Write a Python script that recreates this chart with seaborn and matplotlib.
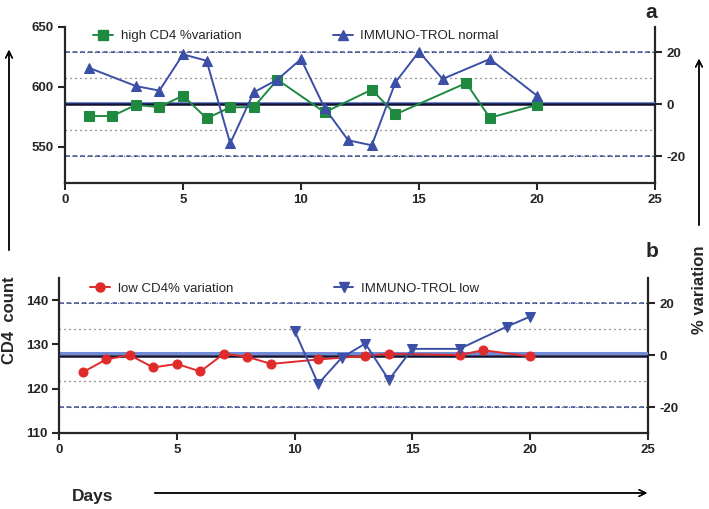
import matplotlib
matplotlib.use("Agg")
import matplotlib.pyplot as plt
from matplotlib.lines import Line2D
import seaborn as sns

# panel a: high CD4 control
days_high = [1, 2, 3, 4, 5, 6, 7, 8, 9, 11, 13, 14, 17, 18, 20]
high_cd4 = [575.8, 575.8, 585.0, 583.3, 592.8, 573.9, 583.0, 583.3, 606.1,
            578.9, 597.8, 577.2, 603.3, 574.4, 585.0]
days_normal = [1, 3, 4, 5, 6, 7, 8, 9, 10, 11, 12, 13, 14, 15, 16, 18, 20]
immuno_normal = [616.1, 600.8, 597.0, 627.2, 621.9, 553.0, 595.6, 606.1, 623.3,
                 582.5, 555.6, 551.4, 603.9, 629.4, 606.7, 623.3, 592.8]

# panel b: low CD4 control
days_low = [1, 2, 3, 4, 5, 6, 7, 8, 9, 11, 13, 14, 17, 18, 20]
low_cd4 = [123.7, 126.6, 127.6, 124.8, 125.6, 123.9, 127.9, 127.2, 125.6,
           126.6, 127.4, 127.9, 127.6, 128.7, 127.3]
days_trol_low = [10, 11, 12, 13, 14, 15, 17, 19, 20]
immuno_low = [133.1, 121.1, 127.0, 130.2, 122.0, 129.0, 129.0, 134.0, 136.3]

# reference levels (% variation, right axis)
limit_pct = [-20, 20]
warn_pct = [-10, 10]
mean_a = 585.6
mean_b = 127.4
target_a = 586.8
target_b = 128.0

green = "#1f8a3f"
blue = "#3b4fa6"
red = "#e02b2b"
lightblue = "#6f8bd8"

sns.set_style("ticks")
plt.rcParams["font.family"] = ["Liberation Sans", "DejaVu Sans"]
plt.rcParams["axes.unicode_minus"] = False

fig = plt.figure(figsize=(7.09, 5.09), dpi=100)


def panel(rect, ylim, yticks, pct_lim, mean, target, s1, s2, label,
          leg_x, leg_y, colsp, lab_x, lab_y):
    ax = fig.add_axes(rect)
    ax2 = ax.twinx()
    ax.set_zorder(ax2.get_zorder() + 1)
    ax.patch.set_visible(False)

    for p in limit_pct:
        ax2.axhline(p, color=blue, lw=1.1, ls=(0, (3, 2)))
        ax2.axhline(p, color="#333333", lw=0.8, ls=(0, (0.8, 2.5)))
    for p in warn_pct:
        ax2.axhline(p, color="#333333", lw=0.9, ls=(0, (0.8, 3.2)))
    ax.axhline(target, color=lightblue, lw=2.2, zorder=1)
    ax.axhline(mean, color="#111133", lw=1.8, zorder=1)

    for x, y, c, m, name in (s1, s2):
        sns.lineplot(x=x, y=y, ax=ax, color=c, marker=m, markersize=6.5,
                     markeredgecolor=c, lw=1.4, zorder=3)

    handles = [Line2D([], [], color=c, marker=m, markersize=6.5, lw=1.4,
                      markeredgecolor=c) for x, y, c, m, n in (s1, s2)]
    ax.legend(handles, [s1[4], s2[4]], ncol=2, frameon=False, loc="upper left",
              bbox_to_anchor=(leg_x, leg_y), columnspacing=colsp, handlelength=1.5,
              fontsize=9.5, handletextpad=0.6)

    ax.set_xlim(0, 25)
    ax.set_xticks([0, 5, 10, 15, 20, 25])
    ax.set_ylim(*ylim)
    ax.set_yticks(yticks)
    ax2.set_ylim(*pct_lim)
    ax2.set_yticks([-20, 0, 20])
    ax.set_xlabel("")
    ax.set_ylabel("")

    for a in (ax, ax2):
        a.tick_params(width=1.5, length=5, labelsize=9.5, pad=3)
        for t in a.get_xticklabels() + a.get_yticklabels():
            t.set_fontweight("bold")
        a.spines["top"].set_visible(False)
    ax.spines["right"].set_visible(False)
    ax2.spines["left"].set_visible(False)
    ax2.spines["bottom"].set_visible(False)
    ax.spines["left"].set_linewidth(1.6)
    ax.spines["bottom"].set_linewidth(1.6)
    ax2.spines["right"].set_linewidth(1.6)
    ax.text(lab_x, lab_y, label, transform=ax.transAxes, ha="center", va="center",
            fontsize=15, fontweight="bold")
    return ax


panel([65 / 709, 1 - 183 / 509, 590 / 709, 156 / 509], (520, 650), [550, 600, 650],
      (-30.2, 29.7), mean_a, target_a,
      (days_high, high_cd4, green, "s", "high CD4 %variation"),
      (days_normal, immuno_normal, blue, "^", "IMMUNO-TROL normal"), "a",
      0.028, 1.057, 6.9, 0.993, 1.093)

panel([59 / 709, 1 - 433 / 509, 589 / 709, 155 / 509], (110, 145), [110, 120, 130, 140],
      (-29.8, 29.6), mean_b, target_b,
      (days_low, low_cd4, red, "o", "low CD4% variation"),
      (days_trol_low, immuno_low, blue, "v", "IMMUNO-TROL low"), "b",
      0.033, 1.046, 7.6, 1.007, 1.168)

fig.text(10 / 709, 1 - 320 / 509, "CD4  count", rotation=90, ha="center", va="center",
         fontsize=12, fontweight="bold")
fig.text(699 / 709, 1 - 290 / 509, "% variation", rotation=90, ha="center", va="center",
         fontsize=12, fontweight="bold")
fig.text(93 / 709, 1 - 497 / 509, "Days", ha="center", va="center",
         fontsize=12.5, fontweight="bold")

arrow = dict(arrowstyle="->", lw=1.0, color="black", mutation_scale=12)
for start, end in [((9, 253), (9, 47)), ((699, 228), (699, 56)), ((152, 493), (650, 493))]:
    fig.add_artist(plt.annotate("", xy=(end[0] / 709, 1 - end[1] / 509),
                                xytext=(start[0] / 709, 1 - start[1] / 509),
                                xycoords="figure fraction", arrowprops=arrow))

fig.savefig("out.png", dpi=100)
